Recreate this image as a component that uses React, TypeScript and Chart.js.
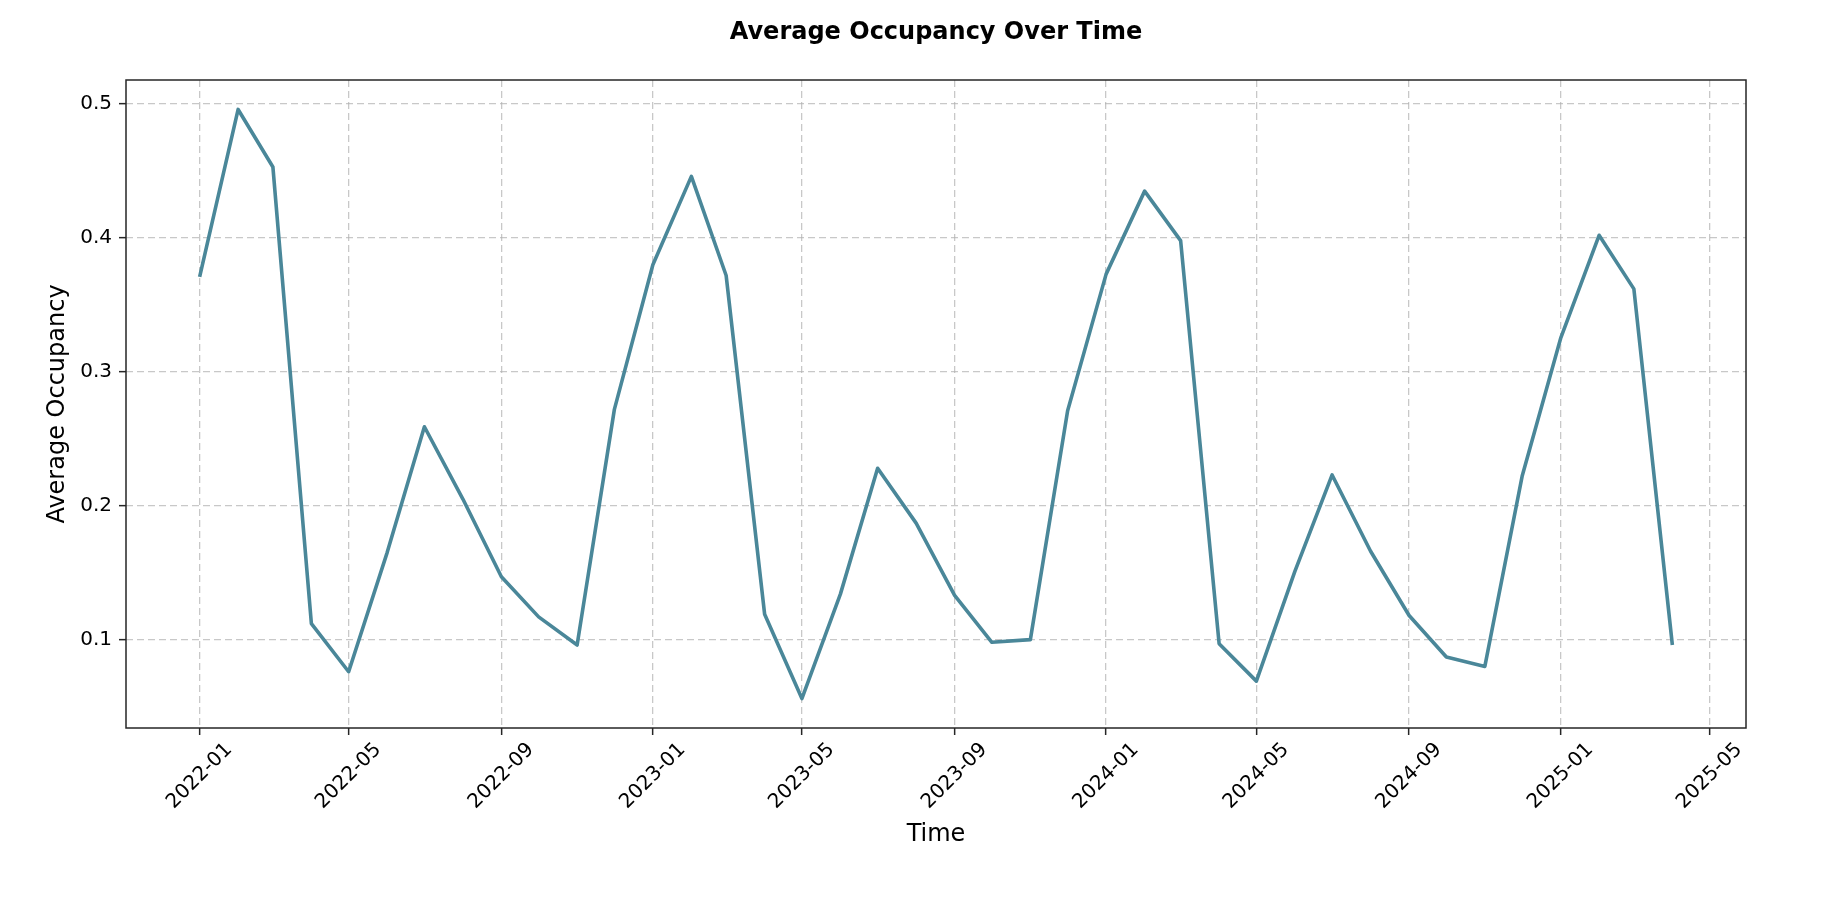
import React, { useEffect, useRef } from "react";
import { Chart, registerables } from "chart.js";

Chart.register(...registerables);

const MONTHS = [
  "2022-01", "2022-02", "2022-03", "2022-04", "2022-05", "2022-06",
  "2022-07", "2022-08", "2022-09", "2022-10", "2022-11", "2022-12",
  "2023-01", "2023-02", "2023-03", "2023-04", "2023-05", "2023-06",
  "2023-07", "2023-08", "2023-09", "2023-10", "2023-11", "2023-12",
  "2024-01", "2024-02", "2024-03", "2024-04", "2024-05", "2024-06",
  "2024-07", "2024-08", "2024-09", "2024-10", "2024-11", "2024-12",
  "2025-01", "2025-02", "2025-03", "2025-04",
];

const OCCUPANCY = [
  0.371, 0.496, 0.453, 0.112, 0.076, 0.165, 0.259, 0.205, 0.147, 0.117, 0.096, 0.272,
  0.380, 0.446, 0.372, 0.119, 0.056, 0.134, 0.228, 0.187, 0.133, 0.098, 0.100, 0.271,
  0.373, 0.435, 0.398, 0.097, 0.069, 0.151, 0.223, 0.166, 0.118, 0.087, 0.080, 0.222,
  0.325, 0.402, 0.362, 0.096,
];

const X_TICKS = [
  "2022-01", "2022-05", "2022-09", "2023-01", "2023-05", "2023-09",
  "2024-01", "2024-05", "2024-09", "2025-01", "2025-05",
];

const Y_TICKS = [0.1, 0.2, 0.3, 0.4, 0.5];

const TITLE = "Average Occupancy Over Time";
const X_LABEL = "Time";
const Y_LABEL = "Average Occupancy";

const toTime = (s: string) => {
  const [y, m] = s.split("-").map(Number);
  return Date.UTC(y, m - 1, 1);
};

const fmtMonth = (t: number) => {
  const d = new Date(t);
  const mm = String(d.getUTCMonth() + 1).padStart(2, "0");
  return `${d.getUTCFullYear()}-${mm}`;
};

const W = 1832;
const H = 902;

export default function App() {
  const ref = useRef<HTMLCanvasElement | null>(null);

  useEffect(() => {
    if (!ref.current) return;
    const times = MONTHS.map(toTime);
    const xMin0 = Math.min(...times);
    const xMax0 = Math.max(...times);
    const xPad = (xMax0 - xMin0) * 0.05;
    const yMin0 = Math.min(...OCCUPANCY);
    const yMax0 = Math.max(...OCCUPANCY);
    const yPad = (yMax0 - yMin0) * 0.05;

    const framePlugin = {
      id: "framePlugin",
      afterDraw(chart: any) {
        const { ctx, chartArea } = chart;
        ctx.save();
        ctx.strokeStyle = "#262626";
        ctx.lineWidth = 1.5;
        ctx.strokeRect(
          chartArea.left,
          chartArea.top,
          chartArea.right - chartArea.left,
          chartArea.bottom - chartArea.top
        );
        ctx.fillStyle = "#000";
        ctx.font = 'bold 24px "DejaVu Sans"';
        ctx.textAlign = "center";
        ctx.textBaseline = "middle";
        ctx.fillText(TITLE, (chartArea.left + chartArea.right) / 2, 33);
        ctx.restore();
      },
    };

    const gridColor = "rgba(176,176,176,0.7)";

    const chart = new Chart(ref.current, {
      type: "line",
      data: {
        datasets: [
          {
            label: Y_LABEL,
            data: times.map((t, i) => ({ x: t, y: OCCUPANCY[i] })),
            borderColor: "#4a8799",
            backgroundColor: "#4a8799",
            borderWidth: 3.6,
            pointRadius: 0,
            tension: 0,
            borderJoinStyle: "round",
            fill: false,
          },
        ],
      },
      options: {
        animation: false,
        responsive: false,
        devicePixelRatio: 1,
        layout: { padding: { top: 80, right: 86, left: 0, bottom: 0 } },
        plugins: {
          legend: { display: false },
          title: { display: false },
          tooltip: { enabled: false },
        },
        scales: {
          x: {
            type: "linear",
            min: xMin0 - xPad,
            max: xMax0 + xPad,
            afterBuildTicks: (scale: any) => {
              scale.ticks = X_TICKS.map((s) => ({ value: toTime(s) }));
            },
            afterFit: (scale: any) => {
              scale.height = 174;
            },
            grid: {
              color: gridColor,
              lineWidth: 1.3,
              drawTicks: true,
              tickLength: 7,
              tickColor: "#262626",
              tickWidth: 1.5,
              tickBorderDash: [],
            },
            border: { display: false, dash: [7, 4] },
            ticks: {
              autoSkip: false,
              minRotation: 45,
              maxRotation: 45,
              padding: 3,
              labelOffset: 29.5,
              color: "#000",
              font: { size: 20, family: '"DejaVu Sans"' },
              callback: (v: any) => fmtMonth(Number(v)),
            },
            title: {
              display: true,
              text: X_LABEL,
              color: "#000",
              font: { size: 24, family: '"DejaVu Sans"' },
              padding: { top: 0, bottom: 53 },
            },
          },
          y: {
            type: "linear",
            min: yMin0 - yPad,
            max: yMax0 + yPad,
            afterBuildTicks: (scale: any) => {
              scale.ticks = Y_TICKS.map((v) => ({ value: v }));
            },
            afterFit: (scale: any) => {
              scale.width = 126;
            },
            grid: {
              color: gridColor,
              lineWidth: 1.3,
              drawTicks: true,
              tickLength: 7,
              tickColor: "#262626",
              tickWidth: 1.5,
              tickBorderDash: [],
            },
            border: { display: false, dash: [7, 4] },
            ticks: {
              padding: 7,
              color: "#000",
              font: { size: 20, family: '"DejaVu Sans"' },
              callback: (v: any) => Number(v).toFixed(1),
            },
            title: {
              display: true,
              text: Y_LABEL,
              color: "#000",
              font: { size: 24, family: '"DejaVu Sans"' },
              padding: { top: 43, bottom: 0 },
            },
          },
        },
      },
      plugins: [framePlugin],
    } as any);

    return () => chart.destroy();
  }, []);

  return (
    <div
      style={{
        position: "absolute",
        left: 0,
        top: 0,
        width: W,
        height: H,
        background: "#fff",
      }}
    >
      <canvas ref={ref} width={W} height={H} style={{ display: "block" }} />
    </div>
  );
}
